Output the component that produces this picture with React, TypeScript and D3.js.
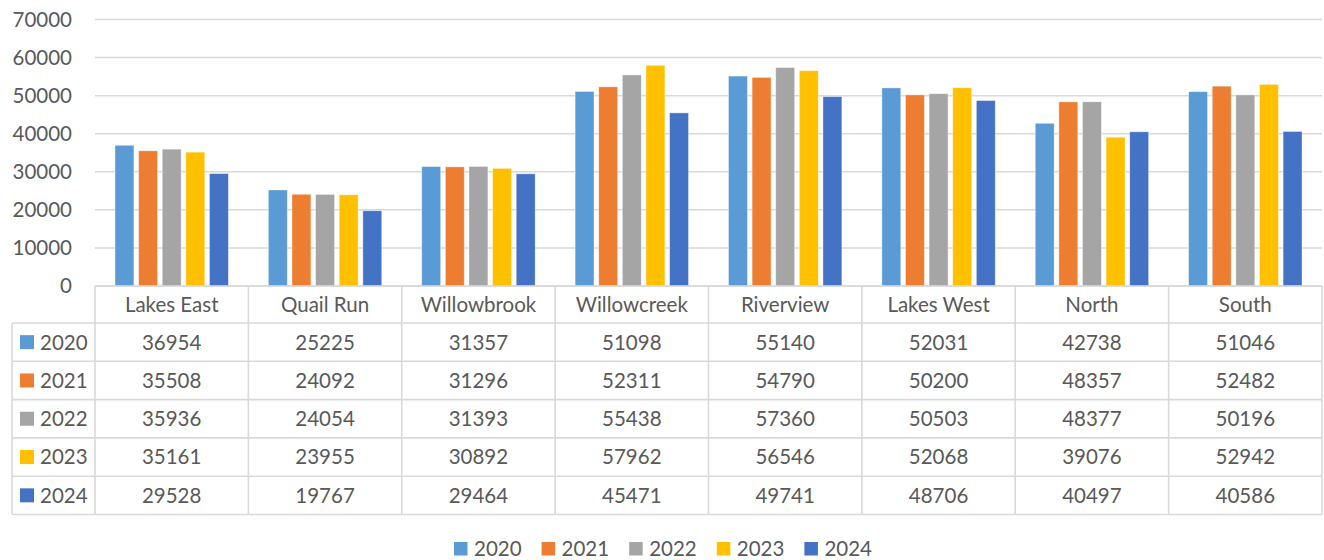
import React from "react";
import * as d3 from "d3";

const categories = ["Lakes East", "Quail Run", "Willowbrook", "Willowcreek", "Riverview", "Lakes West", "North", "South"];
const seriesNames = ["2020", "2021", "2022", "2023", "2024"];
const values2020 = [36954, 25225, 31357, 51098, 55140, 52031, 42738, 51046];
const values2021 = [35508, 24092, 31296, 52311, 54790, 50200, 48357, 52482];
const values2022 = [35936, 24054, 31393, 55438, 57360, 50503, 48377, 50196];
const values2023 = [35161, 23955, 30892, 57962, 56546, 52068, 39076, 52942];
const values2024 = [29528, 19767, 29464, 45471, 49741, 48706, 40497, 40586];
const yTicks = [0, 10000, 20000, 30000, 40000, 50000, 60000, 70000];
const colors = ["#5B9BD5", "#ED7D31", "#A5A5A5", "#FFC000", "#4472C4"];

const seriesValues = [values2020, values2021, values2022, values2023, values2024];

const W = 1324;
const H = 560;
const plotLeft = 95;
const plotRight = 1322;
const yTop = 19.5;
const yBottom = 286;
const tableLeft = 12;
const headerBottom = 323;
const rowH = 38.3;
const FONT = "Lato, 'Open Sans', sans-serif";
const TXT = "#595959";
const LINE = "#D9D9D9";

export default function App() {
  const x0 = d3.scaleBand<string>().domain(categories).range([plotLeft, plotRight]).paddingInner(0).paddingOuter(0);
  const bw = x0.bandwidth();
  const x1 = d3.scaleBand<string>().domain(seriesNames).range([20, bw - 20]).paddingInner(0.2).paddingOuter(0);
  const y = d3.scaleLinear().domain([0, 70000]).range([yBottom, yTop]);

  const rowTop = (i: number) => headerBottom + i * rowH;
  const tableBottom = rowTop(seriesNames.length);

  return (
    <svg width={W} height={H} style={{ position: "absolute", left: 0, top: 0, background: "#fff" }} fontFamily={FONT}>
      {/* gridlines */}
      {yTicks.map((t) => (
        <line key={"g" + t} x1={plotLeft} x2={plotRight} y1={y(t)} y2={y(t)} stroke={LINE} strokeWidth={1.5} />
      ))}
      {/* y labels */}
      {yTicks.map((t) => (
        <text key={"yl" + t} x={72} y={y(t)} dy="0.36em" textAnchor="end" fontSize={20.5} fill={TXT}>
          {t}
        </text>
      ))}
      {/* bars */}
      {categories.map((c, ci) => (
        <g key={"c" + c} transform={`translate(${x0(c)},0)`}>
          {seriesNames.map((s, si) => {
            const v = seriesValues[si][ci];
            return (
              <rect
                key={s}
                x={x1(s)}
                y={y(v)}
                width={x1.bandwidth()}
                height={y(0) - y(v)}
                fill={colors[si]}
                stroke="#ffffff"
                strokeOpacity={0.45}
                strokeWidth={0.8}
              />
            );
          })}
        </g>
      ))}
      {/* table horizontal lines */}
      <line x1={plotLeft} x2={plotRight} y1={yBottom} y2={yBottom} stroke={LINE} strokeWidth={1.6} />
      {seriesNames.concat(["end"]).map((_, i) => (
        <line key={"h" + i} x1={tableLeft} x2={plotRight} y1={rowTop(i)} y2={rowTop(i)} stroke={LINE} strokeWidth={1.6} />
      ))}
      {/* table vertical lines */}
      <line x1={tableLeft} x2={tableLeft} y1={headerBottom} y2={tableBottom} stroke={LINE} strokeWidth={1.6} />
      {categories.map((c, i) => (
        <line key={"v" + i} x1={x0(c)} x2={x0(c)} y1={yBottom} y2={tableBottom} stroke={LINE} strokeWidth={1.6} />
      ))}
      <line x1={plotRight} x2={plotRight} y1={yBottom} y2={tableBottom} stroke={LINE} strokeWidth={1.6} />
      {/* category headers */}
      {categories.map((c) => (
        <text key={"ch" + c} x={(x0(c) as number) + bw / 2} y={(yBottom + headerBottom) / 2} dy="0.36em" textAnchor="middle" fontSize={20.5} fill={TXT}>
          {c}
        </text>
      ))}
      {/* rows */}
      {seriesNames.map((s, si) => {
        const cy = rowTop(si) + rowH / 2;
        return (
          <g key={"r" + s}>
            <rect x={20} y={cy - 7} width={14} height={14} fill={colors[si]} />
            <text x={40} y={cy} dy="0.36em" fontSize={20.5} fill={TXT}>
              {s}
            </text>
            {categories.map((c, ci) => (
              <text key={c} x={(x0(c) as number) + bw / 2} y={cy} dy="0.36em" textAnchor="middle" fontSize={20.5} fill={TXT}>
                {seriesValues[si][ci]}
              </text>
            ))}
          </g>
        );
      })}
      {/* legend */}
      {seriesNames.map((s, si) => {
        const lx = 454 + si * 87.6;
        return (
          <g key={"l" + s}>
            <rect x={lx} y={542} width={13.5} height={13.5} fill={colors[si]} />
            <text x={lx + 20} y={548.8} dy="0.36em" fontSize={20.5} fill={TXT}>
              {s}
            </text>
          </g>
        );
      })}
    </svg>
  );
}
